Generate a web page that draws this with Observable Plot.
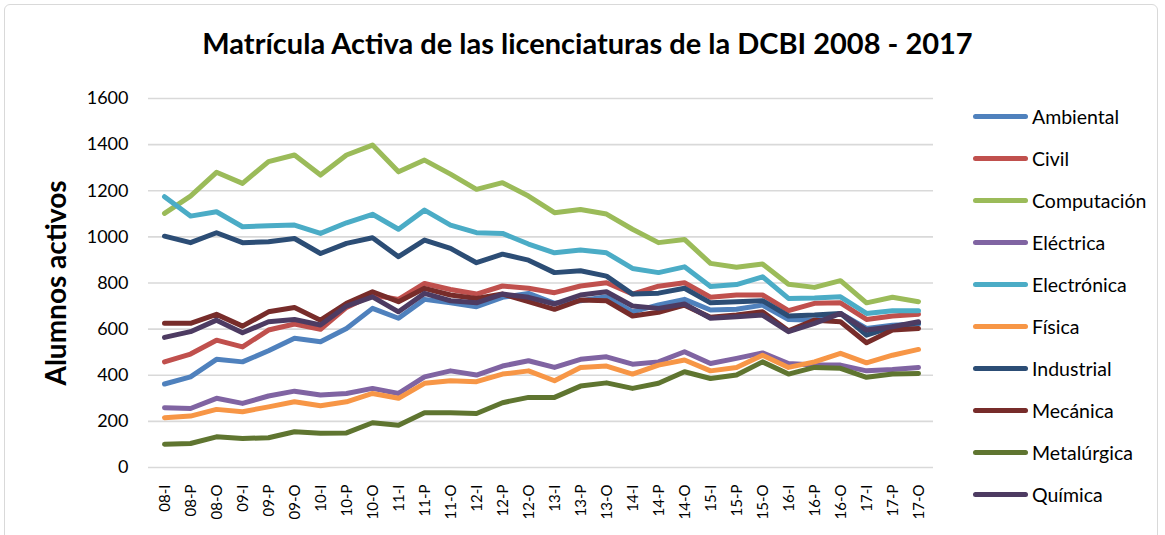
<!DOCTYPE html>
<html>
<head>
<meta charset="utf-8">
<script src="https://cdn.jsdelivr.net/npm/d3@7"></script>
<script src="https://cdn.jsdelivr.net/npm/@observablehq/plot@0.6"></script>
<style>
  html, body { margin: 0; padding: 0; background: #fff; }
  #wrap { position: relative; width: 1165px; height: 535px; overflow: hidden; font-family: Lato, "Open Sans", sans-serif; }
  #frame { position: absolute; left: 4px; top: 4px; width: 1154px; height: 560px; border: 1px solid #d9d9d9; border-radius: 6px; box-sizing: border-box; }
  #title { position: absolute; top: 25px; left: 0; width: 1175px; text-align: center; font-weight: 700; font-size: 29px; color: #000; white-space: nowrap; }
  #chart { position: absolute; left: 0; top: 80px; }
  #legend { position: absolute; left: 973px; top: 0; }
  .item { position: absolute; left: 0; height: 24px; display: flex; align-items: center; white-space: nowrap; font-size: 19.5px; color: #000; }
  .sw { width: 55px; height: 5px; border-radius: 3px; margin-right: 4px; }
</style>
</head>
<body>
<div id="wrap">
  <div id="frame"></div>
  <div id="title">Matrícula Activa de las licenciaturas de la DCBI 2008 - 2017</div>
  <div id="chart"></div>
  <div id="legend"></div>
</div>
<script>
const periods = ["08-I","08-P","08-O","09-I","09-P","09-O","10-I","10-P","10-O","11-I","11-P","11-O","12-I","12-P","12-O","13-I","13-P","13-O","14-I","14-P","14-O","15-I","15-P","15-O","16-I","16-P","16-O","17-I","17-P","17-O"];

const seriesNames = ["Ambiental","Civil","Computación","Eléctrica","Electrónica","Física","Industrial","Mecánica","Metalúrgica","Química"];
const seriesColors = ["#4F81BD","#C0504D","#9BBB59","#8064A2","#4BACC6","#F79646","#2C4D75","#772C2A","#5F7530","#4D3B62"];

const ambiental   = [362,393,469,458,506,560,545,603,690,647, 729,714,697,738,755,712,723,740,675,705, 729,683,686,704,642,639,668,603,617,622];
const civil       = [458,492,552,523,596,622,599,694,748,729, 798,772,752,787,777,758,787,801,752,786, 801,738,748,748,680,712,714,642,657,665];
const computacion = [1102,1177,1280,1232,1326,1355,1268,1355,1398,1282, 1333,1272,1206,1235,1177,1105,1119,1099,1033,975, 989,885,868,882,795,781,810,714,738,719];
const electrica   = [259,256,300,278,310,331,314,321,343,321, 393,419,401,440,463,434,469,480,448,458, 502,451,473,497,451,444,444,419,425,434];
const electronica = [1174,1090,1109,1044,1048,1051,1015,1061,1098,1033, 1116,1051,1018,1015,969,931,943,931,863,845, 870,785,793,827,733,735,740,668,680,680];
const fisica      = [216,223,252,242,263,285,268,285,321,300, 365,376,372,405,419,376,434,440,405,444, 466,419,434,487,434,458,495,454,487,512];
const industrial  = [1003,975,1018,975,979,993,928,972,996,914, 986,950,888,925,899,845,853,830,752,756, 777,714,719,723,657,661,668,574,610,627];
const mecanica    = [625,625,664,613,675,694,639,712,762,719, 777,748,733,752,719,686,726,723,657,673, 704,651,661,675,593,639,632,541,596,603];
const metalurgica = [101,104,133,126,129,155,148,150,194,183, 237,237,234,281,304,304,353,367,343,365, 415,386,401,458,405,434,430,391,405,408];
const quimica     = [564,589,639,584,632,642,618,700,740,675, 755,723,714,752,738,709,748,762,700,690, 709,647,654,661,589,625,668,596,610,632];

const yTicks = [0,200,400,600,800,1000,1200,1400,1600];

const seriesValues = [ambiental, civil, computacion, electrica, electronica, fisica, industrial, mecanica, metalurgica, quimica];
const data = [];
seriesNames.forEach((name, s) => {
  periods.forEach((p, i) => data.push({serie: name, periodo: p, valor: seriesValues[s][i]}));
});

const chart = Plot.plot({
  width: 960,
  height: 455,
  marginLeft: 148,
  marginRight: 27,
  marginTop: 18,
  marginBottom: 68,
  style: { fontFamily: "Lato, sans-serif", background: "transparent" },
  x: { type: "point", domain: periods, padding: 0.5, label: null, axis: null },
  y: { domain: [0, 1600], label: null },
  color: { domain: seriesNames, range: seriesColors },
  marks: [
    Plot.gridY(yTicks, { stroke: "#d9d9d9", strokeOpacity: 1, strokeWidth: 1.6 }),
    Plot.axisY(yTicks, { tickSize: 0, tickPadding: 20, fontSize: 18, label: null, fill: "#000", tickFormat: d => String(d) }),
    Plot.text(periods, { x: d => d, frameAnchor: "bottom", dy: 17, dx: 5, rotate: -90, textAnchor: "end", fontSize: 15, fill: "#000" }),
    Plot.text(["Alumnos activos"], { frameAnchor: "left", textAnchor: "middle", rotate: -90, dx: -91, fontSize: 28, fontWeight: "bold", fill: "#000" }),
    Plot.lineY(data, { x: "periodo", y: "valor", z: "serie", stroke: "serie", strokeWidth: 5, strokeLinejoin: "round", strokeLinecap: "round" })
  ]
});
document.getElementById("chart").appendChild(chart);

const legend = document.getElementById("legend");
const rowY = [116,158,200,242,284,326,368,410,452,494];
seriesNames.forEach((name, i) => {
  const it = document.createElement("div");
  it.className = "item";
  it.style.top = (rowY[i] - 12) + "px";
  const sw = document.createElement("div");
  sw.className = "sw";
  sw.style.background = seriesColors[i];
  const tx = document.createElement("span");
  tx.textContent = name;
  it.appendChild(sw);
  it.appendChild(tx);
  legend.appendChild(it);
});
</script>
</body>
</html>
